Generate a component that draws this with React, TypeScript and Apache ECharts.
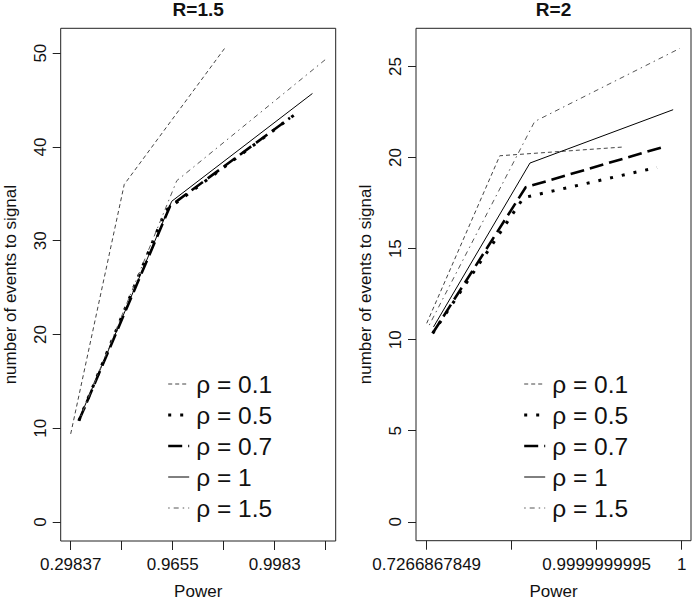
import React, { useEffect, useRef } from "react";
import * as echarts from "echarts";

// ---- data (x = position on the Power axis, y = number of events to signal) ----
const rhoLabels = ["0.1", "0.5", "0.7", "1", "1.5"];

// Panel R=1.5
const r15X = [
  [1.0, 2.05, 4.03],
  [1.16, 2.86, 5.48],
  [1.16, 2.95, 5.3],
  [1.16, 2.98, 5.74],
  [1.2, 3.08, 5.99],
];
const r15Y = [
  [9.4, 36.0, 50.6],
  [10.8, 33.2, 43.8],
  [10.8, 33.7, 43.1],
  [10.9, 34.2, 45.7],
  [11.3, 36.4, 49.3],
];
const r15TickPos = [1, 2, 3, 4, 5, 6];
const r15TickLabels = ["0.29837", "", "0.9655", "", "0.9983", ""];
const r15YTicks = [0, 10, 20, 30, 40, 50];

// Panel R=2
const r2X = [
  [1.0, 1.86, 3.31],
  [1.07, 2.14, 3.71],
  [1.07, 2.165, 3.78],
  [1.08, 2.215, 3.9],
  [1.03, 2.27, 3.98],
];
const r2Y = [
  [10.9, 20.1, 20.58],
  [10.35, 17.8, 19.46],
  [10.35, 18.37, 20.58],
  [10.7, 19.7, 22.63],
  [10.8, 21.98, 26.0],
];
const r2TickPos = [1, 2, 3, 4];
const r2TickLabels = ["0.7266867849", "", "0.9999999995", "1"];
const r2YTicks = [0, 5, 10, 15, 20, 25];

// ---- styles ----
const FONT = "'Liberation Sans', Arial, Helvetica, sans-serif";
const FS = 17;
const lineStyles = [
  { color: "#444", width: 1, type: [4, 3] as any },
  { color: "#000", width: 3, type: [3, 9] as any },
  { color: "#000", width: 2.6, type: [14, 6] as any },
  { color: "#000", width: 1, type: "solid" as any },
  { color: "#555", width: 1, type: [1.5, 4, 5, 4] as any },
];

function makeAxes(
  gi: number,
  xmin: number,
  xmax: number,
  ymin: number,
  ymax: number,
  tickPos: number[],
  tickLabels: string[],
  yTicks: number[]
) {
  const labelPos = tickPos.filter((_, i) => tickLabels[i] !== "");
  const xAxis = {
    type: "value",
    gridIndex: gi,
    min: xmin,
    max: xmax,
    name: "Power",
    nameLocation: "middle",
    nameGap: 42,
    nameTextStyle: { fontFamily: FONT, fontSize: FS, color: "#111" },
    axisLine: { show: false, onZero: false },
    axisTick: {
      show: true,
      inside: false,
      length: 9,
      customValues: tickPos,
      lineStyle: { color: "#222", width: 1 },
    },
    axisLabel: {
      show: true,
      customValues: labelPos,
      margin: 15,
      fontFamily: FONT,
      fontSize: FS,
      color: "#111",
      formatter: (v: number) => {
        const i = tickPos.findIndex((p) => Math.abs(p - v) < 1e-6);
        return i >= 0 ? tickLabels[i] : "";
      },
    },
    splitLine: { show: false },
  };
  const yAxis = {
    type: "value",
    gridIndex: gi,
    min: ymin,
    max: ymax,
    name: "number of events to signal",
    nameLocation: "middle",
    nameRotate: 90,
    nameGap: 42,
    nameTextStyle: { fontFamily: FONT, fontSize: FS, color: "#111" },
    axisLine: { show: false, onZero: false },
    axisTick: {
      show: true,
      inside: false,
      length: 8,
      customValues: yTicks,
      lineStyle: { color: "#222", width: 1 },
    },
    axisLabel: {
      show: true,
      customValues: yTicks,
      rotate: 90,
      margin: 12,
      fontFamily: FONT,
      fontSize: FS,
      color: "#111",
    },
    splitLine: { show: false },
  };
  return { xAxis, yAxis };
}

function legendGraphics(x0: number) {
  const rows = [384, 415, 446, 477, 508];
  const els: any[] = [];
  rhoLabels.forEach((lab, i) => {
    const ls = lineStyles[i];
    els.push({
      type: "line",
      shape: { x1: x0 + 1.5, y1: rows[i], x2: x0 + 22.5, y2: rows[i] },
      style: {
        stroke: ls.color,
        lineWidth: ls.width,
        lineDash: Array.isArray(ls.type) ? ls.type : null,
      },
      silent: true,
    });
    els.push({
      type: "text",
      x: x0 + 29.5,
      y: rows[i],
      style: {
        text: "ρ = " + lab,
        fontFamily: FONT,
        fontSize: 24.5,
        fill: "#111",
        verticalAlign: "middle",
        textAlign: "left",
      },
      silent: true,
    });
  });
  return els;
}

export default function App() {
  const ref = useRef<HTMLDivElement>(null);
  useEffect(() => {
    if (!ref.current) return;
    const chart = echarts.init(ref.current, null, { renderer: "svg" });
    const a1 = makeAxes(0, 0.804, 6.196, -2.02, 52.65, r15TickPos, r15TickLabels, r15YTicks);
    const a2 = makeAxes(1, 0.874, 4.11, -1.04, 27.1, r2TickPos, r2TickLabels, r2YTicks);
    const series: any[] = [];
    [
      { xs: r15X, ys: r15Y, gi: 0 },
      { xs: r2X, ys: r2Y, gi: 1 },
    ].forEach((p) => {
      p.xs.forEach((xs, i) => {
        series.push({
          type: "line",
          xAxisIndex: p.gi,
          yAxisIndex: p.gi,
          data: xs.map((x, j) => [x, p.ys[i][j]]),
          symbol: "none",
          showSymbol: false,
          silent: true,
          lineStyle: { ...lineStyles[i], cap: "butt" },
        });
      });
    });
    chart.setOption({
      animation: false,
      backgroundColor: "#fff",
      grid: [
        { left: 60.7, top: 28.3, width: 275, height: 512.7, show: true, borderColor: "#222", borderWidth: 1, backgroundColor: "transparent", containLabel: false, outerBoundsMode: "none" },
        { left: 416, top: 28.3, width: 275, height: 512.4, show: true, borderColor: "#222", borderWidth: 1, backgroundColor: "transparent", containLabel: false, outerBoundsMode: "none" },
      ],
      xAxis: [a1.xAxis, a2.xAxis],
      yAxis: [a1.yAxis, a2.yAxis],
      series,
      graphic: [
        {
          type: "text",
          x: 198.2,
          y: 0,
          style: { text: "R=1.5", fontFamily: FONT, fontSize: 19, fontWeight: "bold", fill: "#111", textAlign: "center", verticalAlign: "top" },
        },
        {
          type: "text",
          x: 553.5,
          y: 0,
          style: { text: "R=2", fontFamily: FONT, fontSize: 19, fontWeight: "bold", fill: "#111", textAlign: "center", verticalAlign: "top" },
        },
        ...legendGraphics(166.7),
        ...legendGraphics(522.7),
      ],
    });
    return () => chart.dispose();
  }, []);
  return (
    <div
      ref={ref}
      style={{ width: 692, height: 600, position: "absolute", left: 0, top: 0 }}
    />
  );
}
